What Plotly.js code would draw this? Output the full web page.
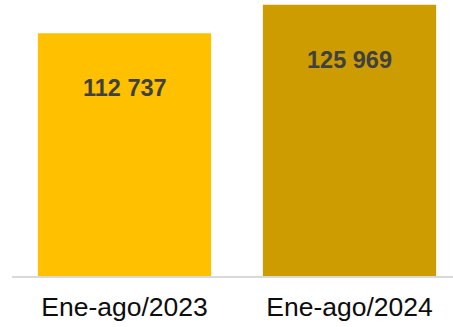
<!DOCTYPE html>
<html>
<head>
<meta charset="utf-8">
<script src="https://cdn.plot.ly/plotly-3.0.1.min.js"></script>
<style>html,body{margin:0;padding:0;background:#fff;}#chart{width:453px;height:327px;}</style>
</head>
<body>
<div id="chart"></div>
<script>
const categories = ["Ene-ago/2023", "Ene-ago/2024"];
const values = [112737, 125969];

const barColors = ["#FFC000", "#CC9C00"];
function fmt(v) { return String(v).replace(/\B(?=(\d{3})+(?!\d))/g, " "); }

const trace = {
  type: "bar",
  x: categories,
  y: values,
  width: 0.77,
  marker: { color: barColors, line: { width: 0 } },
  hoverinfo: "none"
};

const annotations = categories.map((c, i) => ({
  x: c, y: values[i], xref: "x", yref: "y",
  text: "<b>" + fmt(values[i]) + "</b>",
  showarrow: false, yanchor: "middle", yshift: -55,
  font: { family: "Liberation Sans, Arial, sans-serif", size: 23.5, color: "#404040" }
}));

const layout = {
  width: 453, height: 327,
  margin: { l: 12, r: 0, t: 0, b: 51 },
  paper_bgcolor: "#ffffff", plot_bgcolor: "#ffffff",
  showlegend: false,
  xaxis: {
    type: "category",
    range: [-0.5, 1.46],
    showline: true, linecolor: "#d9d9d9", linewidth: 1.5,
    showgrid: false, zeroline: false,
    ticks: "", ticklabelstandoff: 7,
    tickfont: { family: "Liberation Sans, Arial, sans-serif", size: 26.5, color: "#0d0d0d" }
  },
  yaxis: {
    range: [0, 128200],
    visible: false, showgrid: false, zeroline: false
  },
  annotations: annotations
};

Plotly.newPlot("chart", [trace], layout, { displayModeBar: false, staticPlot: true });
</script>
</body>
</html>
